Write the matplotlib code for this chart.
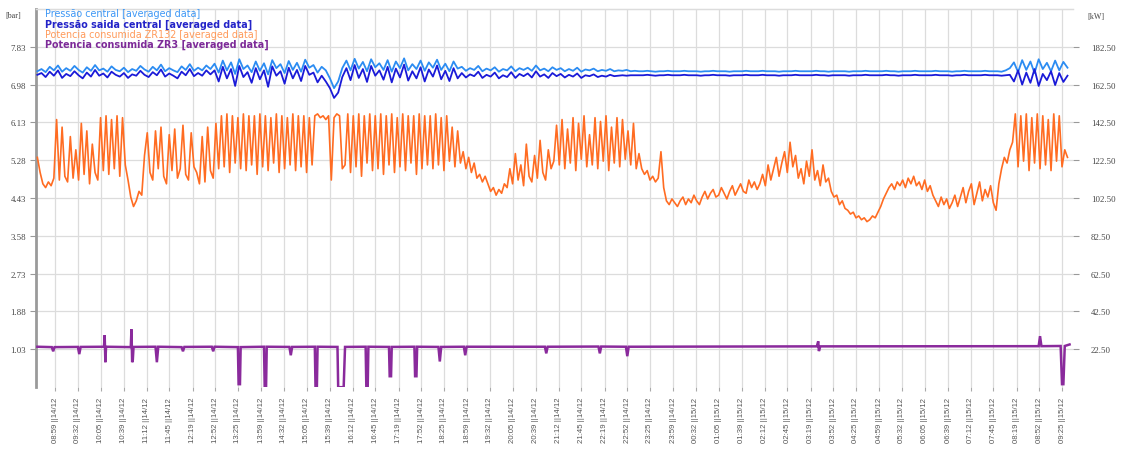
import numpy as np
import matplotlib
matplotlib.use("Agg")
import matplotlib.pyplot as plt

# ---------------------------------------------------------------- data
# Time is expressed in minutes since 00:00 on 14/12.
tick_labels = [
    "08:59 ||14/12", "09:32 ||14/12", "10:05 ||14/12", "10:39 ||14/12",
    "11:12 ||14/12", "11:45 ||14/12", "12:19 ||14/12", "12:52 ||14/12",
    "13:25 ||14/12", "13:59 ||14/12", "14:32 ||14/12", "15:05 ||14/12",
    "15:39 ||14/12", "16:12 ||14/12", "16:45 ||14/12", "17:19 ||14/12",
    "17:52 ||14/12", "18:25 ||14/12", "18:59 ||14/12", "19:32 ||14/12",
    "20:05 ||14/12", "20:39 ||14/12", "21:12 ||14/12", "21:45 ||14/12",
    "22:19 ||14/12", "22:52 ||14/12", "23:25 ||14/12", "23:59 ||14/12",
    "00:32 ||15/12", "01:05 ||15/12", "01:39 ||15/12", "02:12 ||15/12",
    "02:45 ||15/12", "03:19 ||15/12", "03:52 ||15/12", "04:25 ||15/12",
    "04:59 ||15/12", "05:32 ||15/12", "06:05 ||15/12", "06:39 ||15/12",
    "07:12 ||15/12", "07:45 ||15/12", "08:19 ||15/12", "08:52 ||15/12",
    "09:25 ||15/12",
]

left_ticks = [7.83, 6.98, 6.13, 5.28, 4.43, 3.58, 2.73, 1.88, 1.03]
left_limits = (0.18, 8.68)
right_ticks = [182.50, 162.50, 142.50, 122.50, 102.50, 82.50, 62.50, 42.50, 22.50]
right_limits = (2.50, 202.50)
time_limits = (511, 2021)

# Potencia consumida ZR132 [kW], averaged every 4 minutes from 08:33 14/12
zr132_start, zr132_step = 513, 4
zr132_kw = [
    124, 116, 110, 108, 111, 109, 113,
    144, 112, 140, 114, 111, 135, 113, 128, 112, 142, 115, 138, 110, 131, 116, 112,
    145, 117, 146, 115, 144, 118, 146, 114, 145, 120, 112,
    103, 98, 101, 106, 104,
    125, 137, 116, 112, 138, 118, 140, 114, 110, 136,
    117, 139, 113, 118, 141, 115, 112, 137, 119, 116,
    110, 135, 111, 140, 117, 113, 142,
    118, 146, 119, 147, 116, 146, 121, 145, 118, 147,
    117, 146, 120, 146, 115, 147, 119, 146, 117, 145,
    121, 147, 116, 146, 118, 145, 120, 147, 117, 146,
    119, 146, 116, 145, 120,
    146, 147, 145, 146, 144, 146, 112, 145, 147, 146, 118,
    120, 147, 116, 146, 119, 147, 114, 146, 121, 147,
    117, 146, 118, 147, 115, 146, 120, 147, 116, 145,
    119, 147, 117, 146, 121, 146, 115, 147, 118, 146,
    120,
    146, 118, 147, 120, 145, 117, 146, 122, 140, 119, 138, 121, 127, 118, 124,
    116, 121, 113, 115, 111, 114, 110,
    106, 108, 104, 107, 105, 110, 108,
    118, 110, 126, 112, 120, 109, 131, 114, 111, 125,
    113, 133, 116, 112, 128, 118, 122,
    141, 120, 144, 118, 139, 121, 145, 117, 142, 123,
    146, 119, 136, 120, 145, 118, 143, 122, 146, 117,
    140, 121, 145, 119, 144, 123, 138, 120, 142, 118,
    126,
    118, 115, 117, 112, 114, 111, 113,
    127,
    108, 101, 99, 102, 100, 98, 101, 103, 99, 102, 100, 104, 101, 99,
    103, 106, 102, 105, 107, 103, 104, 108, 105, 102,
    106, 109, 104, 107, 110, 106, 105, 112, 108, 111,
    107, 110,
    115, 109, 120, 112, 118, 124, 114, 121, 127, 116, 132, 119, 125, 113,
    118, 110, 122, 114, 128, 112, 117, 109, 120, 111, 113,
    106, 103, 104, 99, 101, 97,
    96, 94, 95, 92, 93, 91, 92, 90, 91, 93, 92, 95,
    98, 102, 105, 108, 110, 107, 111, 109,
    112, 108, 113, 110, 114, 109, 111, 107, 112, 106, 109, 104,
    101, 98, 103, 99, 102, 97, 100, 104, 98,
    103, 108, 100, 106, 110, 99, 105, 111, 101, 107, 103, 109, 100, 96, 110,
    118, 124, 121, 128, 132,
    147, 119, 146, 122, 147, 117, 145, 121, 147, 118,
    146, 120, 144, 117, 147, 122, 146, 119, 128, 124,
]

# Pressures [bar], averaged every 6 minutes from 08:33 14/12
pressure_start, pressure_step = 513, 6
central_bar = [
    7.28, 7.33, 7.26, 7.38, 7.30, 7.41, 7.27, 7.35, 7.29, 7.40,
    7.31, 7.25, 7.37, 7.29, 7.42, 7.30, 7.34, 7.27, 7.39, 7.31,
    7.28, 7.36, 7.26, 7.33, 7.29, 7.40, 7.32, 7.27, 7.38, 7.30,
    7.43, 7.28, 7.35, 7.30, 7.26, 7.39, 7.31, 7.44, 7.29, 7.36,
    7.30, 7.41, 7.33,
    7.45, 7.25, 7.52, 7.30, 7.48, 7.22, 7.55, 7.33, 7.41, 7.26,
    7.50, 7.29, 7.46, 7.21, 7.53, 7.35, 7.44, 7.24, 7.51, 7.31,
    7.47, 7.27, 7.54, 7.36, 7.42, 7.25, 7.38, 7.30,
    7.12, 6.90, 7.05, 7.35,
    7.52, 7.30, 7.56, 7.34, 7.49, 7.28, 7.55, 7.37, 7.46, 7.31,
    7.53, 7.27, 7.50, 7.35, 7.57, 7.30, 7.44, 7.33, 7.52, 7.29,
    7.48, 7.36, 7.54, 7.31, 7.45, 7.28, 7.50, 7.34,
    7.38, 7.29, 7.35, 7.31, 7.40, 7.28, 7.34, 7.30, 7.37, 7.27,
    7.33, 7.30, 7.39, 7.28, 7.35, 7.31, 7.36, 7.29, 7.41, 7.30,
    7.34, 7.28, 7.37, 7.31,
    7.35, 7.28, 7.33, 7.29, 7.36, 7.27, 7.32, 7.30, 7.34, 7.28,
    7.31, 7.29, 7.33, 7.28, 7.30, 7.29, 7.31, 7.28, 7.29,
    7.28, 7.28, 7.29, 7.28, 7.27, 7.28, 7.28, 7.29, 7.28, 7.28,
    7.28, 7.29, 7.28, 7.28, 7.28, 7.27, 7.28, 7.28, 7.29, 7.28,
    7.28, 7.28, 7.27, 7.28, 7.28, 7.28, 7.29, 7.28, 7.28, 7.28,
    7.29, 7.28, 7.28, 7.28, 7.27, 7.28, 7.28, 7.28, 7.29, 7.28,
    7.28, 7.28, 7.28, 7.29, 7.28, 7.28, 7.27, 7.28, 7.28, 7.28,
    7.28, 7.27, 7.28, 7.28, 7.28, 7.29, 7.28, 7.28, 7.28, 7.28,
    7.29, 7.28, 7.28, 7.27, 7.28, 7.28, 7.28, 7.29, 7.28, 7.28,
    7.28, 7.28, 7.29, 7.28, 7.28, 7.28, 7.27, 7.28, 7.28, 7.29,
    7.28, 7.28, 7.28, 7.28, 7.29, 7.28, 7.28, 7.28, 7.27, 7.30,
    7.35, 7.48, 7.26, 7.53, 7.31, 7.50, 7.24, 7.55, 7.33, 7.47,
    7.28, 7.52, 7.30, 7.49, 7.36,
]
saida_bar = [
    7.20, 7.24, 7.15, 7.27, 7.18, 7.30, 7.13, 7.22, 7.17, 7.28,
    7.19, 7.12, 7.25, 7.16, 7.31, 7.18, 7.23, 7.14, 7.27, 7.20,
    7.16, 7.24, 7.13, 7.21, 7.18, 7.29, 7.20, 7.15, 7.26, 7.19,
    7.32, 7.16, 7.23, 7.18, 7.12, 7.27, 7.19, 7.33, 7.17, 7.24,
    7.18, 7.30, 7.21,
    7.30, 7.05, 7.38, 7.12, 7.33, 6.95, 7.40, 7.15, 7.26, 7.02,
    7.35, 7.10, 7.30, 6.93, 7.39, 7.18, 7.28, 7.00, 7.36, 7.12,
    7.31, 7.06, 7.40, 7.20, 7.25, 7.03, 7.18, 7.05,
    6.90, 6.68, 6.80, 7.15,
    7.35, 7.08, 7.42, 7.13, 7.33, 7.04, 7.40, 7.18, 7.30, 7.09,
    7.38, 7.03, 7.34, 7.14, 7.43, 7.07, 7.28, 7.12, 7.37, 7.05,
    7.32, 7.16, 7.41, 7.10, 7.29, 7.06, 7.35, 7.12,
    7.24, 7.14, 7.21, 7.17, 7.27, 7.13, 7.20, 7.16, 7.25, 7.12,
    7.19, 7.15, 7.26, 7.13, 7.22, 7.17, 7.23, 7.14, 7.28, 7.16,
    7.21, 7.13, 7.24, 7.17,
    7.22, 7.14, 7.20, 7.16, 7.23, 7.13, 7.19, 7.17, 7.21, 7.15,
    7.18, 7.16, 7.20, 7.17, 7.18, 7.19, 7.18, 7.19, 7.19,
    7.19, 7.19, 7.20, 7.19, 7.18, 7.19, 7.19, 7.20, 7.19, 7.19,
    7.19, 7.20, 7.19, 7.19, 7.19, 7.18, 7.19, 7.19, 7.20, 7.19,
    7.19, 7.19, 7.18, 7.19, 7.19, 7.19, 7.20, 7.19, 7.19, 7.19,
    7.20, 7.19, 7.19, 7.19, 7.18, 7.19, 7.19, 7.19, 7.20, 7.19,
    7.19, 7.19, 7.19, 7.20, 7.19, 7.19, 7.18, 7.19, 7.19, 7.19,
    7.19, 7.18, 7.19, 7.19, 7.19, 7.20, 7.19, 7.19, 7.19, 7.19,
    7.20, 7.19, 7.19, 7.18, 7.19, 7.19, 7.19, 7.20, 7.19, 7.19,
    7.19, 7.19, 7.20, 7.19, 7.19, 7.19, 7.18, 7.19, 7.19, 7.20,
    7.19, 7.19, 7.19, 7.19, 7.20, 7.19, 7.19, 7.19, 7.18, 7.19,
    7.20, 7.05, 7.30, 6.98, 7.25, 7.02, 7.33, 6.95, 7.22, 7.08,
    7.28, 6.97, 7.24, 7.04, 7.18,
]

# Potencia consumida ZR3 [kW], irregular samples (minute, value)
zr3_t = [
    513, 534, 536, 538, 572, 574, 576, 610, 611, 612, 613,
    649, 650, 651, 652, 653, 685, 687, 689, 723, 725, 727,
    767, 769, 771, 805, 806, 808, 809, 843, 844, 846, 847,
    880, 882, 884, 917, 918, 920, 921, 950, 951, 959, 961,
    991, 992, 994, 995, 1025, 1026, 1028, 1029, 1062, 1063, 1065, 1066,
    1097, 1099, 1101, 1134, 1136, 1138, 1252, 1254, 1256,
    1330, 1332, 1334, 1370, 1372, 1374, 1648, 1650, 1651, 1653,
    1971, 1973, 1975, 2003, 2005, 2007, 2009, 2016,
]
zr3_kw = [
    23.8, 23.6, 21.4, 23.6, 23.7, 19.9, 23.7, 23.8, 29.9, 15.6, 23.8,
    23.6, 33.0, 15.6, 17.0, 23.7, 23.8, 15.6, 23.8, 23.6, 21.4, 23.7,
    23.8, 21.4, 23.8, 23.6, 4.0, 4.0, 23.6, 23.8, 2.4, 2.4, 23.8,
    23.7, 19.3, 23.7, 23.8, 2.4, 2.4, 23.8, 23.7, 2.4, 2.4, 23.7,
    23.8, 2.4, 2.4, 23.8, 23.7, 8.2, 8.2, 23.7, 23.8, 8.2, 8.2, 23.8,
    23.7, 16.0, 23.7, 23.8, 19.3, 23.8, 23.8, 20.3, 23.8,
    23.9, 20.3, 23.9, 23.8, 18.8, 23.8, 24.0, 26.7, 21.5, 24.0,
    24.1, 29.4, 24.1, 24.2, 4.0, 4.0, 24.2, 25.0,
]

series_names = [
    "Pressão central [averaged data]",
    "Pressão saida central [averaged data]",
    "Potencia consumida ZR132 [averaged data]",
    "Potencia consumida ZR3 [averaged data]",
]
series_colors = ["#2b8cf2", "#1a1ad8", "#ff6c22", "#8a2a9c"]
label_colors = ["#3d97f5", "#2323c8", "#ff9a5a", "#7d2a98"]


def label_minutes(label):
    hhmm, day = label.split("||")
    h, m = (int(v) for v in hhmm.strip().split(":"))
    offset = 0 if day.strip().startswith("14") else 1440
    return offset + 60 * h + m


# ---------------------------------------------------------------- figure
W, H = 1126, 456
fig = plt.figure(figsize=(W / 100, H / 100), dpi=100)
fig.patch.set_facecolor("white")

left_px, right_px, top_px, bottom_px = 36, 1073, 10, 388
ax = fig.add_axes([left_px / W, (H - bottom_px) / H,
                   (right_px - left_px) / W, (bottom_px - top_px) / H])
ax2 = ax.twinx()

grid_color = "#dcdcdc"

# pressures on the left [bar] axis
t_p = pressure_start + pressure_step * np.arange(len(central_bar))
ax.plot(t_p, central_bar, color=series_colors[0], lw=1.3, zorder=3)
ax.plot(t_p, saida_bar, color=series_colors[1], lw=1.3, zorder=3)

# powers on the right [kW] axis
t_o = zr132_start + zr132_step * np.arange(len(zr132_kw))
ax2.plot(t_o, zr132_kw, color=series_colors[2], lw=1.2, zorder=3)
ax2.plot(zr3_t, zr3_kw, color=series_colors[3], lw=1.8, zorder=4,
         solid_joinstyle="miter")

ax.set_xlim(*time_limits)
ax.set_ylim(*left_limits)
ax2.set_ylim(*right_limits)

tick_pos = [label_minutes(l) for l in tick_labels]
ax.set_xticks(tick_pos)
ax.set_xticklabels(tick_labels, rotation=90, fontsize=5.6,
                   family="Liberation Sans", color="#555555")
ax.tick_params(axis="x", direction="out", length=3, color="#aaaaaa", pad=4)

ax.set_yticks(left_ticks)
ax.set_yticklabels([f"{v:.2f}" for v in left_ticks], fontsize=6.3,
                   family="Liberation Serif", color="#444444")
ax.tick_params(axis="y", direction="out", length=4, color="#999999", pad=3)

ax2.set_yticks(right_ticks)
ax2.set_yticklabels([f"{v:.2f}" for v in right_ticks], fontsize=6.3,
                    family="Liberation Serif", color="#444444")
ax2.tick_params(axis="y", direction="out", length=4, color="#999999", pad=9)

ax.grid(True, color=grid_color, lw=0.9)
ax.set_axisbelow(True)

for a in (ax, ax2):
    a.spines["right"].set_visible(False)
    a.spines["bottom"].set_visible(False)
    a.spines["top"].set_color(grid_color)
    a.spines["top"].set_linewidth(0.9)
ax2.spines["left"].set_visible(False)
ax.spines["left"].set_color("#9a9a9a")
ax.spines["left"].set_linewidth(2.0)

# unit captions
fig.text(5 / W, 1 - 16 / H, "[bar]", fontsize=5.8, family="Liberation Serif",
         color="#444444", va="center", ha="left")
fig.text(1087 / W, 1 - 17 / H, "[kW]", fontsize=5.8, family="Liberation Serif",
         color="#444444", va="center", ha="left")

# series captions
for i, (name, col) in enumerate(zip(series_names, label_colors)):
    fig.text(45 / W, 1 - (14 + 10.4 * i) / H, name, fontsize=6.9,
             family="DejaVu Sans", color=col, va="center", ha="left",
             fontweight="bold" if i in (1, 3) else "normal")

fig.savefig("out.png", dpi=100, facecolor="white")
